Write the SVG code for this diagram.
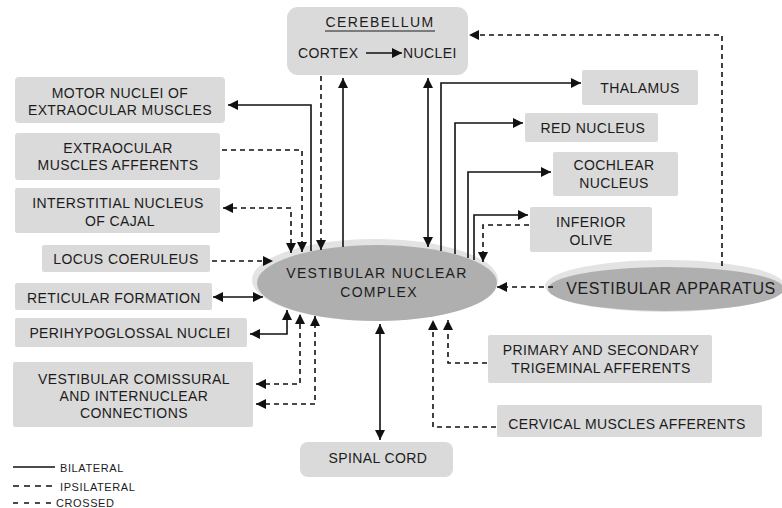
<svg xmlns="http://www.w3.org/2000/svg" width="782" height="508" viewBox="0 0 782 508">
<defs>
<marker id="ah" viewBox="0 0 10 10" refX="10" refY="5" markerWidth="12" markerHeight="10" markerUnits="userSpaceOnUse" orient="auto-start-reverse">
<path d="M0,0 L10,5 L0,10 z" fill="#111"/>
</marker>
<style>
.box{fill:#dadada;}
.ell{fill:#afafaf;}
.halo{fill:#e3e3e3;}
text{font-family:"Liberation Sans",Arial,sans-serif;font-size:14px;fill:#1c1c1c;letter-spacing:0.4px;}
.c{text-anchor:middle;}
.lg{font-size:11px;letter-spacing:0.6px;}
.s{fill:none;stroke:#111;stroke-width:1.6;}
.d{fill:none;stroke:#111;stroke-width:1.6;stroke-dasharray:5,4;}
.e{marker-end:url(#ah);}
.b{marker-start:url(#ah);marker-end:url(#ah);}
</style>
</defs>
<rect width="782" height="508" fill="#fff"/>

<g id="cerebellum">
<rect class="box" x="287" y="7" width="181" height="68" rx="11"/>
<text class="c" x="380" y="27" style="letter-spacing:1.4px">CEREBELLUM</text>
<line x1="325" y1="31" x2="435" y2="31" stroke="#1c1c1c" stroke-width="1.2"/>
<text x="298" y="58">CORTEX</text>
<text x="403" y="58">NUCLEI</text>
</g>

<g id="motor-nuclei">
<rect class="box" x="15" y="77" width="210" height="46" rx="4"/>
<text class="c" x="120" y="98">MOTOR NUCLEI OF</text>
<text class="c" x="120" y="115">EXTRAOCULAR MUSCLES</text>
</g>

<g id="extraocular-afferents">
<rect class="box" x="15" y="133" width="205" height="47" rx="3"/>
<text class="c" x="118" y="153">EXTRAOCULAR</text>
<text class="c" x="118" y="170">MUSCLES AFFERENTS</text>
</g>

<g id="interstitial">
<rect class="box" x="15" y="188" width="205" height="45" rx="2"/>
<text class="c" x="118" y="208">INTERSTITIAL NUCLEUS</text>
<text class="c" x="120" y="226">OF CAJAL</text>
</g>

<g id="locus">
<rect class="box" x="42" y="245" width="168" height="27" rx="2"/>
<text class="c" x="126" y="264">LOCUS COERULEUS</text>
</g>

<g id="reticular">
<rect class="box" x="15" y="283" width="197" height="27" rx="2"/>
<text class="c" x="114" y="303">RETICULAR FORMATION</text>
</g>

<g id="perihypoglossal">
<rect class="box" x="15" y="318" width="232" height="29" rx="2"/>
<text class="c" x="130" y="338">PERIHYPOGLOSSAL NUCLEI</text>
</g>

<g id="commissural">
<rect class="box" x="13" y="362" width="240" height="65" rx="2"/>
<text class="c" x="134" y="384">VESTIBULAR COMISSURAL</text>
<text class="c" x="134" y="401">AND INTERNUCLEAR</text>
<text class="c" x="134" y="418">CONNECTIONS</text>
</g>

<g id="thalamus">
<rect class="box" x="582" y="70" width="116" height="35" rx="2"/>
<text class="c" x="640" y="93">THALAMUS</text>
</g>

<g id="red-nucleus">
<rect class="box" x="525" y="113" width="133" height="29" rx="2"/>
<text class="c" x="593" y="133">RED NUCLEUS</text>
</g>

<g id="cochlear">
<rect class="box" x="553" y="152" width="125" height="44" rx="2"/>
<text class="c" x="614" y="170">COCHLEAR</text>
<text class="c" x="614" y="188">NUCLEUS</text>
</g>

<g id="inferior-olive">
<rect class="box" x="530" y="207" width="122" height="45" rx="2"/>
<text class="c" x="591" y="227">INFERIOR</text>
<text class="c" x="591" y="245">OLIVE</text>
</g>

<g id="trigeminal">
<rect class="box" x="488" y="335" width="224" height="48" rx="2"/>
<text class="c" x="601" y="355">PRIMARY AND SECONDARY</text>
<text class="c" x="601" y="373">TRIGEMINAL AFFERENTS</text>
</g>

<g id="cervical">
<rect class="box" x="497" y="405" width="265" height="32" rx="2"/>
<text class="c" x="627" y="429">CERVICAL MUSCLES AFFERENTS</text>
</g>

<g id="spinal-cord">
<rect class="box" x="300" y="442" width="153" height="35" rx="8"/>
<text class="c" x="378" y="463">SPINAL CORD</text>
</g>

<g id="vestibular-complex">
<ellipse class="halo" cx="375" cy="280" rx="123" ry="41"/>
<ellipse class="ell" cx="377" cy="283" rx="120" ry="38"/>
<text class="c" x="377" y="278" style="letter-spacing:1.3px">VESTIBULAR NUCLEAR</text>
<text class="c" x="379" y="297" style="letter-spacing:1.3px">COMPLEX</text>
</g>

<g id="vestibular-apparatus">
<ellipse class="halo" cx="665" cy="286" rx="120" ry="26"/>
<ellipse class="ell" cx="666" cy="289" rx="118" ry="22"/>
<text class="c" x="671" y="294" style="font-size:16px;letter-spacing:0.6px">VESTIBULAR APPARATUS</text>
</g>

<g id="connectors">
<path class="s e" d="M366,53 H402"/>
<path class="s e" d="M311,251 V105 H228"/>
<path class="d e" d="M222,150 H302 V252"/>
<path class="d b" d="M223,208 H291 V253"/>
<path class="d e" d="M321,76 V250"/>
<path class="s e" d="M343,247 V78"/>
<path class="s b" d="M428,78 V247"/>
<path class="s e" d="M441,251 V83 H581"/>
<path class="s e" d="M455,254 V123 H523"/>
<path class="s e" d="M468,258 V172 H551"/>
<path class="s e" d="M474,260 V215 H528"/>
<path class="d e" d="M529,225 H483 V262"/>
<path class="d e" d="M553,287 H497"/>
<path class="d e" d="M722,266 V35 H469"/>
<path class="d e" d="M212,261 H273"/>
<path class="s b" d="M213,297 H263"/>
<path class="s b" d="M250,334 H287 V310"/>
<path class="d b" d="M256,384 H300 V314"/>
<path class="d b" d="M256,404 H315 V316"/>
<path class="s b" d="M380,324 V440"/>
<path class="d e" d="M487,363 H448 V320"/>
<path class="d e" d="M496,427 H433 V320"/>
</g>

<g id="legend">
<line x1="13" y1="467" x2="55" y2="467" stroke="#111" stroke-width="1.3"/>
<text class="lg" x="60" y="472">BILATERAL</text>
<line x1="13" y1="486" x2="53" y2="486" stroke="#111" stroke-width="1.3" stroke-dasharray="6,5"/>
<text class="lg" x="60" y="491">IPSILATERAL</text>
<line x1="13" y1="503" x2="52" y2="503" stroke="#111" stroke-width="1.3" stroke-dasharray="5,6"/>
<text class="lg" x="56" y="507">CROSSED</text>
</g>
</svg>
